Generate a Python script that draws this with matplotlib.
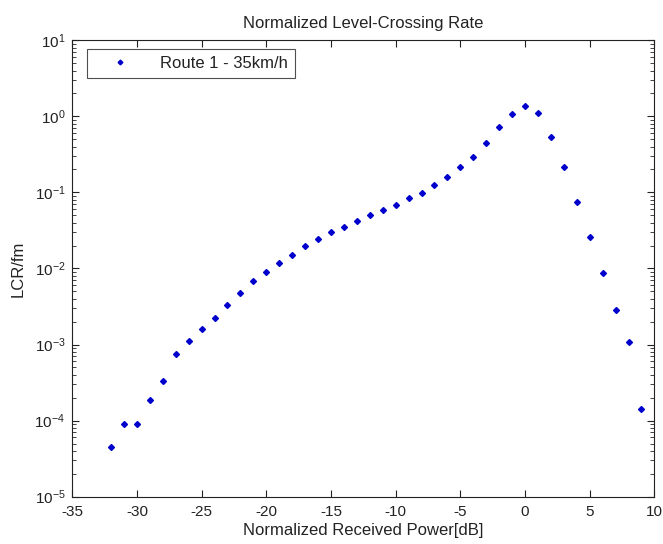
import matplotlib
matplotlib.use("Agg")
import matplotlib.pyplot as plt
from matplotlib.ticker import LogLocator, NullFormatter

power_db = [-32, -31, -30, -29, -28, -27, -26, -25, -24, -23, -22, -21, -20, -19, -18,
            -17, -16, -15, -14, -13, -12, -11, -10, -9, -8, -7, -6, -5, -4, -3, -2, -1,
            0, 1, 2, 3, 4, 5, 6, 7, 8, 9]
lcr = [4.5e-5, 9.1e-5, 9.1e-5, 1.88e-4, 3.3e-4, 7.4e-4, 1.11e-3, 1.61e-3, 2.21e-3, 3.33e-3,
       4.8e-3, 6.9e-3, 9.06e-3, 1.17e-2, 1.49e-2,
       1.97e-2, 2.41e-2, 2.98e-2, 3.47e-2, 4.24e-2, 4.99e-2, 5.85e-2, 6.87e-2, 8.4e-2, 9.9e-2,
       0.126, 0.160, 0.213, 0.294, 0.44, 0.715, 1.07,
       1.36, 1.11, 0.537, 0.213, 0.0745, 0.0261, 8.8e-3, 2.84e-3, 1.07e-3, 1.42e-4]

plt.rcParams['font.family'] = ['Liberation Sans', 'DejaVu Sans']
plt.rcParams['axes.unicode_minus'] = False

fig = plt.figure(figsize=(6.63, 5.44), dpi=100)
ax = fig.add_axes([0.109, 0.087, 0.878, 0.839])

ax.plot(power_db, lcr, linestyle='none', marker='D', markersize=3.0,
        color='#0000CC', label='Route 1 - 35km/h')
ax.set_yscale('log')
ax.set_xlim(-35, 10)
ax.set_ylim(1e-5, 1e1)
ax.set_xticks(range(-35, 11, 5))
ax.yaxis.set_major_locator(LogLocator(base=10, numticks=10))
ax.yaxis.set_minor_locator(LogLocator(base=10, subs=range(2, 10), numticks=20))
ax.yaxis.set_minor_formatter(NullFormatter())

ax.tick_params(which='both', direction='in', top=True, right=True, labelsize=11, colors='#222222')
ax.tick_params(axis='x', which='major', pad=6)
ax.tick_params(axis='y', which='major', pad=5)
ax.tick_params(which='major', length=5, width=0.8)
ax.tick_params(which='minor', length=3, width=0.6)
for s in ax.spines.values():
    s.set_linewidth(0.8)
    s.set_color('#222222')

ax.set_title('Normalized Level-Crossing Rate', fontsize=12, pad=9, color='#222222')
ax.set_xlabel('Normalized Received Power[dB]', fontsize=12, labelpad=3, color='#222222')
ax.set_ylabel('LCR/fm', fontsize=12, labelpad=6, color='#222222')

leg = ax.legend(loc='upper left', bbox_to_anchor=(0.025, 0.980), borderaxespad=0,
                fontsize=12, frameon=True, fancybox=False, edgecolor='#222222',
                handlelength=3.2, handletextpad=0.8, markerscale=0.8)
leg.get_frame().set_linewidth(0.8)
for t in leg.get_texts():
    t.set_color('#222222')

fig.savefig('out.png', dpi=100)
